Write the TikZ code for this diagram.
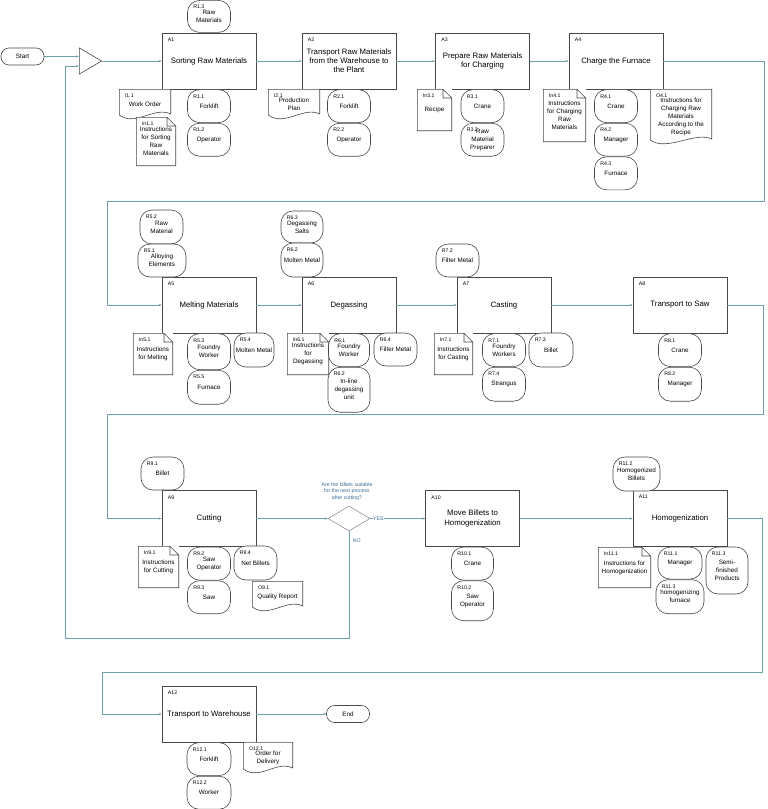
\documentclass[tikz,border=0pt]{standalone}
\usepackage{fontspec}
\setmainfont{Liberation Sans}
\usepackage{xcolor}
\usepackage{tikz}
\usetikzlibrary{positioning, shapes.geometric, arrows.meta}
\definecolor{linkcol}{RGB}{112,160,172}
\definecolor{edgecol}{RGB}{72,72,72}
\definecolor{askcol}{RGB}{58,108,150}
\newcommand{\ppbb}{path picture bounding box}
\tikzset{
	activity/.style = {draw=edgecol, line width=0.6pt, fill=white, minimum width=94pt, minimum height=56pt, inner sep=1pt, align=center, font=\fontsize{7.8}{9.2}\selectfont},
	resource/.style = {draw=edgecol, line width=0.6pt, fill=white, rounded corners=12pt, minimum width=43pt, minimum height=33pt, inner sep=1pt, align=center, font=\fontsize{6.3}{8}\selectfont},
	note/.style = {fill=white, minimum width=40pt, minimum height=42pt, inner sep=1pt, align=center, font=\fontsize{6.3}{8}\selectfont,
		path picture={
			\draw[edgecol, line width=0.6pt] ([shift={(0.3pt,0.3pt)}]\ppbb.south west) -- ([shift={(0.3pt,-0.3pt)}]\ppbb.north west) -- ([shift={(-9pt,-0.3pt)}]\ppbb.north east) -- ([shift={(-0.3pt,-9pt)}]\ppbb.north east) -- ([shift={(-0.3pt,0.3pt)}]\ppbb.south east) -- cycle
				([shift={(-9pt,-0.3pt)}]\ppbb.north east) |- ([shift={(-0.3pt,-9pt)}]\ppbb.north east);
		}},
	docu/.style = {fill=white, minimum width=52pt, minimum height=31pt, inner sep=1pt, align=center, font=\fontsize{6.3}{8}\selectfont,
		path picture={
			\draw[edgecol, line width=0.6pt] ([shift={(0.3pt,-0.3pt)}]\ppbb.north west) -- ([shift={(0.3pt,5pt)}]\ppbb.south west) .. controls +(16pt,-12pt) and +(-16pt,8pt) .. ([shift={(-0.3pt,6pt)}]\ppbb.south east) -- ([shift={(-0.3pt,-0.3pt)}]\ppbb.north east) -- cycle;
		}},
	terminal/.style = {draw=edgecol, line width=0.6pt, fill=white, rounded corners=8pt, minimum width=43pt, minimum height=17pt, inner sep=1pt, font=\fontsize{6.3}{8}\selectfont},
	joint/.style = {fill=white, minimum width=23pt, minimum height=27pt, inner sep=0pt,
		path picture={
			\draw[edgecol, line width=0.6pt] ([shift={(0.3pt,-0.4pt)}]\ppbb.north west) -- ([xshift=-0.4pt]\ppbb.east) -- ([shift={(0.3pt,0.4pt)}]\ppbb.south west) -- cycle;
		}},
	choice/.style = {diamond, draw=gray!85, line width=0.6pt, fill=white, minimum width=42pt, minimum height=25pt, inner sep=0pt},
	tag/.style = {anchor=north west, inner sep=0pt, xshift=6pt, yshift=-5pt, font=\fontsize{5.2}{6}\selectfont},
	tagged/.style = {label={[tag]north west:#1}},
	ask/.style = {align=center, inner sep=0.5pt, text=askcol, font=\fontsize{5.2}{6.6}\selectfont},
	link/.style = {draw=linkcol, line width=0.6pt, -{Stealth[length=3pt, width=2.4pt]}}
}
\begin{document}
\begin{tikzpicture}[x=1pt, y=-1pt]
	\useasboundingbox (0,0) rectangle (768,809);
	
	% first row
	\node [terminal] (start) at (22.5,56.5) {Start};
	\node [joint] (join) at (90.5,61) {};
	\node [activity, tagged=A1] (a1) at (209,61) {Sorting Raw Materials};
	\node [activity, tagged=A2] (a2) at (349,61) {Transport Raw Materials\\from the Warehouse to\\the Plant};
	\node [activity, tagged=A3] (a3) at (482.5,61) {Prepare Raw Materials\\for Charging};
	\node [activity, tagged=A4] (a4) at (616,61) {Charge the Furnace};
	
	\node [resource, tagged=R1.3, minimum height=32pt] [above=0pt of a1] (r1-3) {Raw\\Materials};
	\node [resource, tagged=R1.1] [below=0pt of a1] (r1-1) {Forklift};
	\node [resource, tagged=R1.2] [below=0pt of r1-1] (r1-2) {Operator};
	\node [docu, tagged=I1.1] (i1-1) at (145,104.5) {Work Order};
	\node [note, tagged=In1.1, minimum height=49pt] (in1-1) at (156,141.5) {Instructions\\for Sorting\\Raw\\Materials};
	
	\node [docu, tagged=I2.1] (i2-1) at (294,104.5) {Production\\Plan};
	\node [resource, tagged=R2.1] [below=0pt of a2] (r2-1) {Forklift};
	\node [resource, tagged=R2.2] [below=0pt of r2-1] (r2-2) {Operator};
	
	\node [note, tagged=In3.1, minimum width=35pt] (in3-1) at (434.5,110) {Recipe};
	\node [resource, tagged=R3.1] [below=0pt of a3] (r3-1) {Crane};
	\node [resource, tagged=R3.2] [below=0pt of r3-1] (r3-2) {Raw\\Material\\Preparer};
	
	\node [note, tagged=In4.1, minimum width=43pt, minimum height=53pt] (in4-1) at (564.5,115.5) {Instructions\\for Charging\\Raw\\Materials};
	\node [resource, tagged=R4.1] [below=0pt of a4] (r4-1) {Crane};
	\node [resource, tagged=R4.2] [below=0pt of r4-1] (r4-2) {Manager};
	\node [resource, tagged=R4.3] [below=0pt of r4-2] (r4-3) {Furnace};
	\node [docu, tagged=O4.1, minimum width=62pt, minimum height=56pt] (o4-1) at (681,117) {Instructions for\\Charging Raw\\Materials\\According to the\\Recipe};
	
	% second row
	\node [activity, tagged=A5] (a5) at (209,305) {Melting Materials};
	\node [activity, tagged=A6] (a6) at (349,305) {Degassing};
	\node [activity, tagged=A7] (a7) at (504,305) {Casting};
	\node [activity, tagged=A8] (a8) at (680,305) {Transport to Saw};
	
	\node [resource, tagged=R5.2, minimum height=34pt] (r5-2) at (161.5,227) {Raw\\Material};
	\node [resource, tagged=R5.1, minimum width=48pt] (r5-1) at (162,260.5) {Alloying\\Elements};
	\node [note, tagged=In5.1] (in5-1) at (153,354) {Instructions\\for Melting};
	\node [resource, tagged=R5.3, minimum height=36pt] [below=0pt of a5] (r5-3) {Foundry\\Worker};
	\node [resource, tagged=R5.5, minimum height=34pt] [below=0pt of r5-3] (r5-5) {Furnace};
	\node [resource, tagged=R5.4, minimum width=40pt, minimum height=34pt] (r5-4) at (254,350) {Molten Metal};
	
	\node [resource, tagged=R6.3, minimum width=42pt, minimum height=32pt] (r6-3) at (302,227) {Degassing\\Salts};
	\node [resource, tagged=R6.2, minimum width=42pt, minimum height=34pt] (r6-2) at (302,260) {Molten Metal};
	\node [note, tagged=In6.1, minimum width=42pt] (in6-1) at (308,354) {Instructions\\for\\Degassing};
	\node [resource, tagged=R6.1, minimum width=41pt] [below=0pt of a6] (r6-1) {Foundry\\Worker};
	\node [resource, tagged=R6.2, minimum width=42pt, minimum height=45pt] [below=0pt of r6-1] (r6-5) {In-line\\degassing\\unit};
	\node [resource, tagged=R6.4] (r6-4) at (395.5,349.5) {Filter Metal};
	
	\node [resource, tagged=R7.2] (r7-2) at (457.5,260.5) {Filter Metal};
	\node [note, tagged=In7.1, minimum width=39pt] (in7-1) at (453.5,354) {Instructions\\for Casting};
	\node [resource, tagged=R7.1] [below=0pt of a7] (r7-1) {Foundry\\Workers};
	\node [resource, tagged=R7.4, minimum height=34pt] [below=0pt of r7-1] (r7-4) {Strangus};
	\node [resource, tagged=R7.3, minimum width=44pt, minimum height=34pt] (r7-3) at (551,350) {Billet};
	
	\node [resource, tagged=R8.1] [below=0pt of a8] (r8-1) {Crane};
	\node [resource, tagged=R8.2, minimum height=34pt] [below=0pt of r8-1] (r8-2) {Manager};
	
	% third row
	\node [activity, tagged=A9] (a9) at (209,518.5) {Cutting};
	\node [choice] (dec) at (349,518.5) {};
	\node [ask] (q) at (347,491.5) {Are the billets suitable\\for the next process\\after cutting?};
	\node [activity, tagged=A10] (a10) at (472.5,518.5) {Move Billets to\\Homogenization};
	\node [activity, tagged=A11] (a11) at (680,518.5) {Homogenization};
	
	\node [resource, tagged=R9.1] (r9-1) at (162.5,473.5) {Billet};
	\node [note, tagged=In9.1, minimum width=41pt] (in9-1) at (158.5,567) {Instructions\\for Cutting};
	\node [resource, tagged=R9.2] [below=0pt of a9] (r9-2) {Saw\\Operator};
	\node [resource, tagged=R9.3] [below=0pt of r9-2] (r9-3) {Saw};
	\node [resource, tagged=R9.4, minimum height=34pt] (r9-4) at (255.5,563) {Net Billets};
	\node [docu, tagged=O9.1, minimum width=51pt] (o9-1) at (277.5,596.5) {Quality Report};
	
	\node [resource, tagged=R10.1, minimum width=42pt] [below=0pt of a10] (r10-1) {Crane};
	\node [resource, tagged=R10.2, minimum width=42pt, minimum height=40pt] [below=0pt of r10-1] (r10-2) {Saw\\Operator};
	
	\node [resource, tagged=R11.2, minimum width=47pt, minimum height=34pt] (r11-2) at (636.5,474) {Homogenized\\Billets};
	\node [note, tagged=In11.1, minimum width=53pt, minimum height=41pt] (in11-1) at (624.5,567.5) {Instructions for\\Homogenization};
	\node [resource, tagged=R11.1, minimum width=44pt, minimum height=32pt] [below=0pt of a11] (r11-1) {Manager};
	\node [resource, tagged=R11.3, minimum width=48pt, minimum height=34pt] [below=0pt of r11-1] (r11-3) {homogenizing\\furnace};
	\node [resource, tagged=R11.3, minimum width=42pt, minimum height=47pt] (r11-4) at (727,570.5) {Semi-\\finished\\Products};
	
	% last row
	\node [activity, tagged=A12] (a12) at (209,714) {Transport to Warehouse};
	\node [terminal] (stop) at (348,714) {End};
	\node [resource, tagged=R12.1, minimum width=44pt] [below=0pt of a12] (r12-1) {Forklift};
	\node [resource, tagged=R12.2, minimum width=44pt] [below=0pt of r12-1] (r12-2) {Worker};
	\node [docu, tagged=O12.1, minimum width=50pt, minimum height=32pt] (o12-1) at (268,758) {Order for\\Delivery};
	
	% bends of the flow
	\coordinate (t1) at (764,201);
	\coordinate (t2) at (107,201);
	\coordinate (t3) at (763,414);
	\coordinate (t4) at (107,414);
	\coordinate (t5) at (762,672);
	\coordinate (t6) at (102,672);
	\coordinate (l1) at (349,638);
	\coordinate (l2) at (65,638);
	
	\draw [link] (start.east) -- (start.east -| join.west);
	\draw [link] (join.east) -- (a1.west);
	\draw [link] (a1) -- (a2);
	\draw [link] (a2) -- (a3);
	\draw [link] (a3) -- (a4);
	\draw [link] (a4.east) -| (t1) -- (t2) |- (a5.west);
	\draw [link] (a5) -- (a6);
	\draw [link] (a6) -- (a7);
	\draw [link] (a7) -- (a8);
	\draw [link] (a8.east) -| (t3) -- (t4) |- (a9.west);
	\draw [link] (a9) -- (dec);
	\draw [link] (dec.east) -- node [ask, fill=white, pos=0, anchor=west, xshift=2pt] {YES} (a10.west);
	\draw [link] (dec.south) -- node [ask, pos=0.09, right=3pt] {NO} (l1) -- (l2) |- ([yshift=-5pt]join.west);
	\draw [link] (a10) -- (a11);
	\draw [link] (a11.east) -| (t5) -- (t6) |- (a12.west);
	\draw [link] (a12) -- (stop);
\end{tikzpicture}
\end{document}
